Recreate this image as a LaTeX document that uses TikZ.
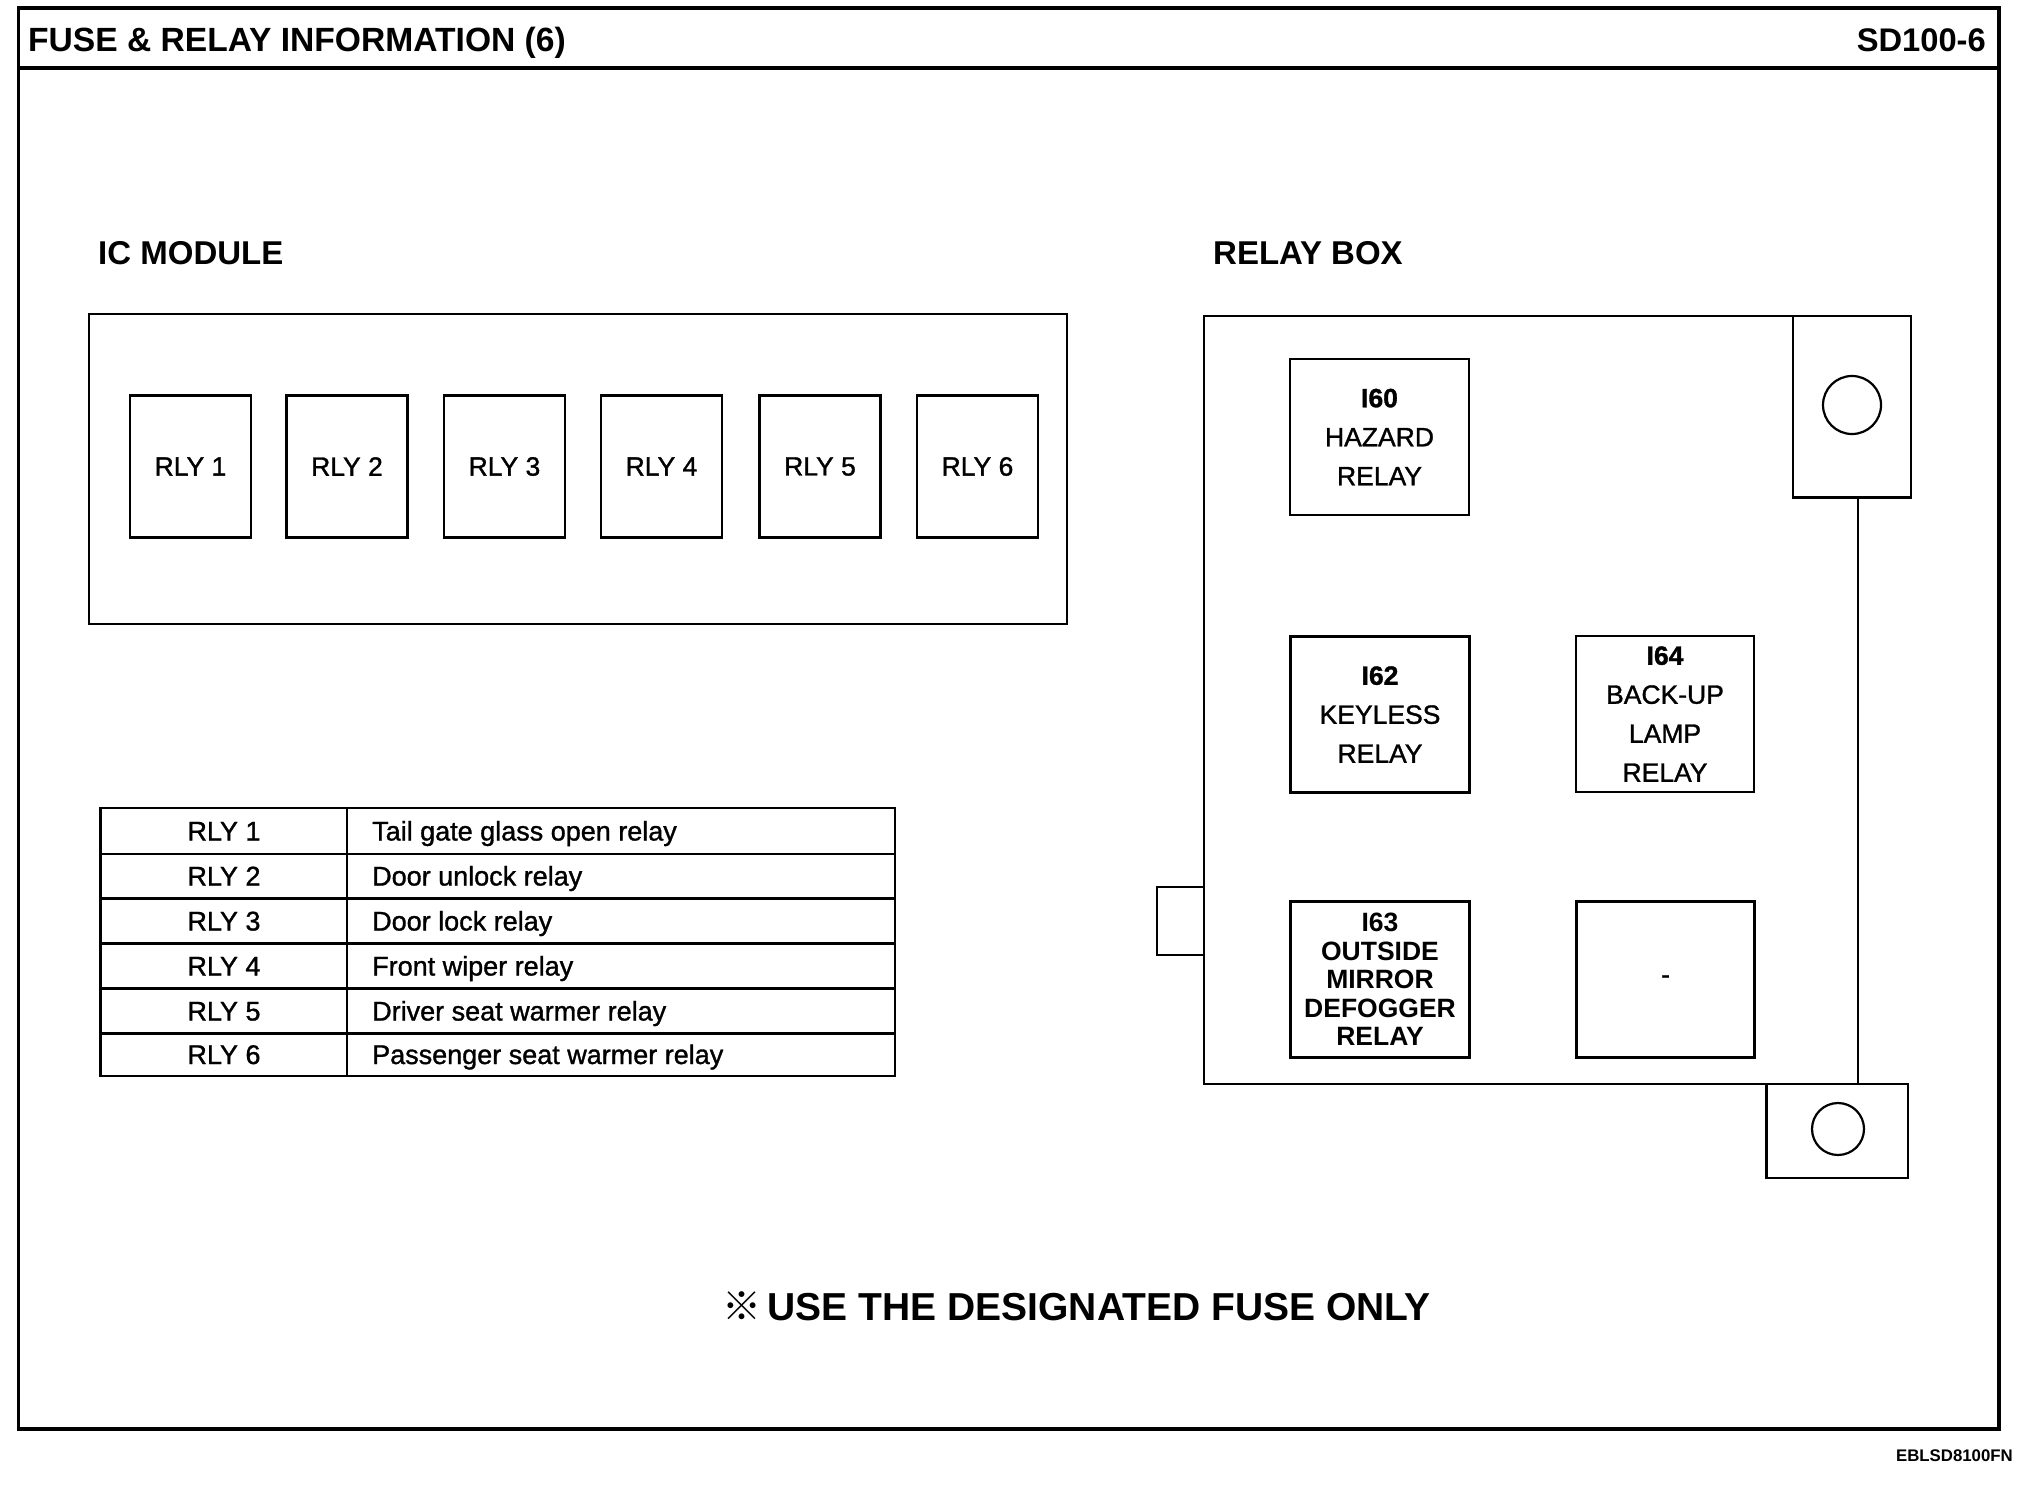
\documentclass[tikz,border=0pt]{standalone}
\usepackage{fontspec}
\setmainfont{Liberation Sans}
\newfontfamily\medfont[FakeBold=1.2]{Liberation Sans}
\newfontfamily\cjkfont{Noto Sans CJK SC}
\begin{document}
\begin{tikzpicture}[x=1pt,y=-1pt,
  frameline/.style={line width=3.5pt},
  boxline/.style={line width=2.6pt},
  thinbox/.style={draw, line width=2.6pt, inner sep=0pt},
  rlybox/.style={thinbox, minimum width=121pt, minimum height=142pt, font=\medfont\fontsize{26.5pt}{30pt}\selectfont},
  relaybox/.style={thinbox, minimum width=179pt, minimum height=156pt, align=center, font=\medfont\fontsize{26.5pt}{39pt}\selectfont},
  tightbox/.style={relaybox, font=\bfseries\fontsize{26.5pt}{28.5pt}\selectfont},
  heading/.style={inner sep=0pt, font=\bfseries\fontsize{33.6pt}{36pt}\selectfont},
  celltext/.style={inner sep=0pt, font=\medfont\fontsize{27pt}{30pt}\selectfont},
  mount/.style={draw, line width=2.4pt, inner sep=0pt},
  hole/.style={draw, circle, line width=2.2pt, inner sep=0pt}
]
\useasboundingbox (0,0) rectangle (2020,1504);
% outer frame
\draw[frameline] (18.5,8) rectangle (1999,1429);
\draw[line width=4.5pt] (18.5,68) -- (1999,68);
\node[heading, anchor=base west] (title) at (28,52) {FUSE \& RELAY INFORMATION (6)};
\node[heading, font=\bfseries\fontsize{32.7pt}{36pt}\selectfont, anchor=base east] (code) at (1986,52) {SD100-6};

% IC module
\node[heading, font=\bfseries\fontsize{33pt}{36pt}\selectfont, anchor=base west] (ichead) at (98,264) {IC MODULE};
\draw[boxline] (89,314) rectangle (1067,624);
\foreach \i/\x in {1/190.5,2/347,3/504.5,4/661.5,5/820,6/977.5}{
  \node[rlybox] (rly\i) at (\x,466.5) {RLY \i};
}

% table
\draw[boxline] (100.5,808) rectangle (895,1076);
\draw[boxline] (347,808) -- (347,1076);
\foreach \yy in {854,898.5,943.5,988.5,1033.5}{
  \draw[boxline] (100.5,\yy) -- (895,\yy);
}
\foreach \i/\yc/\txt in {1/831/Tail gate glass open relay,
                         2/876/Door unlock relay,
                         3/921/Door lock relay,
                         4/966/Front wiper relay,
                         5/1011/Driver seat warmer relay,
                         6/1054.5/Passenger seat warmer relay}{
  \node[celltext, anchor=base] (tl\i) at (224,\yc+9.5) {RLY \i};
  \node[celltext, anchor=base west] (tr\i) at (372,\yc+9.5) {\txt};
}

% relay box
\node[heading, font=\bfseries\fontsize{33pt}{36pt}\selectfont, anchor=base west] (rbhead) at (1213,264) {RELAY BOX};
\draw[boxline] (1793,316) -- (1204,316) -- (1204,1084) -- (1858,1084) -- (1858,497.5);
\draw[boxline] (1205,887) -- (1157,887) -- (1157,955) -- (1205,955);
\node[mount, minimum width=118pt, minimum height=181.5pt] (mtop) at (1852,406.75) {};
\node[mount, minimum width=141.5pt, minimum height=94pt] (mbot) at (1837.25,1131) {};
\node[hole, minimum size=58pt] (holetop) at (1852,405) {};
\node[hole, minimum size=52pt] (holebot) at (1838,1129) {};

\node[relaybox] (r60) at (1379.5,437) {\textbf{I60}\\HAZARD\\RELAY};
\node[relaybox] (r62) at (1380,714.5) {\textbf{I62}\\KEYLESS\\RELAY};
\node[relaybox, minimum width=178pt] (r64) at (1665,714) {\textbf{I64}\\BACK-UP\\LAMP\\RELAY};
\node[tightbox] (r63) at (1380,979.5) {I63\\OUTSIDE\\MIRROR\\DEFOGGER\\RELAY};
\node[relaybox, minimum width=178pt] (rblank) at (1665.5,979.5) {-};

% note
\node[inner sep=0pt, anchor=base west, font=\bfseries\fontsize{39pt}{42pt}\selectfont] (note) at (722,1320) {{\cjkfont ※}\,USE THE DESIGNATED FUSE ONLY};

% footer code
\node[inner sep=0pt, anchor=base east, font=\bfseries\fontsize{16.8pt}{18pt}\selectfont] (foot) at (2013,1461) {EBLSD8100FN};
\end{tikzpicture}
\end{document}
